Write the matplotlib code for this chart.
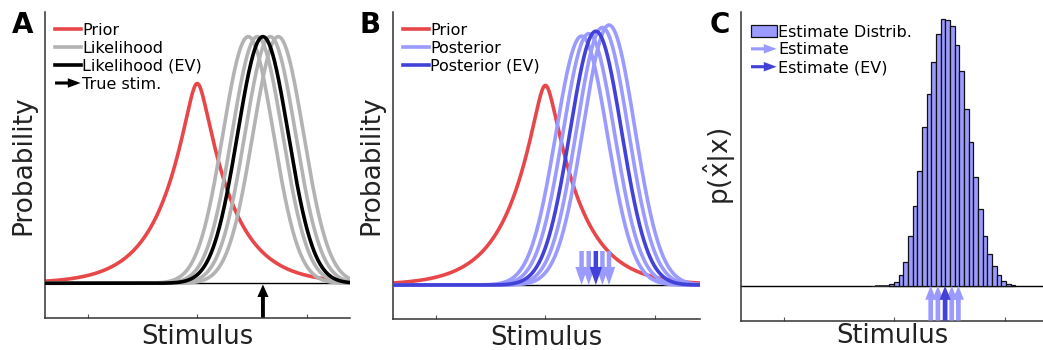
import matplotlib
matplotlib.use('Agg')
import matplotlib.pyplot as plt
import matplotlib.patches as mpatches
from matplotlib.legend_handler import HandlerPatch
import numpy as np

plt.rcParams['mathtext.fontset'] = 'dejavusans'

# --- values (stimulus units, prior centred at 0) ---
prior_center = 0.0
prior_scale = 0.29          # laplace-like width of the prior
prior_peak = 0.81

true_stim = 0.60
likelihood_means = [0.466, 0.548, 0.667, 0.74]
likelihood_ev_mean = 0.60
likelihood_sd = 0.231

estimates = [0.33, 0.395, 0.52, 0.58]          # posterior modes / estimates
estimate_ev = 0.46
posterior_peaks = [1.01, 1.02, 1.045, 1.055]
posterior_ev_peak = 1.03
posterior_sd = 0.235

# histogram of estimates (panel C), bin left edges and bar heights (px above baseline)
hist_start = -0.045
hist_width = 0.0422
hist_heights = [1.7, 4.0, 10.8, 24.0, 50.0, 79.7, 114.5, 159.3, 191.8, 224.0,
                252.0, 266.7, 266.0, 259.5, 241.0, 214.5, 177.0, 144.3, 108.5,
                77.0, 50.0, 31.7, 19.5, 10.8, 4.8, 2.2, 1.0]
hist_tail_left = [0.3, 0.4, 0.5, 0.8]   # tiny bars left of the main block

RED = '#e8474a'
GRAY = '#b3b3b3'
LIGHT = '#9a9aff'
DARK = '#4242d8'


class HandlerArrow(HandlerPatch):
    def create_artists(self, legend, orig_handle, xdescent, ydescent,
                       width, height, fontsize, trans):
        x0, y0 = -xdescent, -ydescent + 0.5 * height
        p = mpatches.FancyArrow(x0, y0, width, 0, width=0.28 * height,
                                head_width=0.85 * height, head_length=0.5 * width,
                                length_includes_head=True,
                                color=orig_handle.get_facecolor(), lw=0)
        p.set_transform(trans)
        return [p]


def prior(x):
    return prior_peak * np.exp(-np.sqrt((x - prior_center) ** 2 + 0.06 ** 2) / prior_scale
                               + 0.06 / prior_scale)


def gauss(x, mu, sd, peak):
    return peak * np.exp(-0.5 * ((x - mu) / sd) ** 2)


def style_axis(ax, xlim, ylim, pad=1):
    ax.set_xlim(*xlim)
    ax.set_ylim(*ylim)
    for s in ['top', 'right']:
        ax.spines[s].set_visible(False)
    for s in ['left', 'bottom']:
        ax.spines[s].set_color('#333333')
        ax.spines[s].set_linewidth(1.1)
    ax.set_xticks([-1, 0, 1])
    ax.set_xticklabels([])
    ax.set_yticks([])
    ax.tick_params(axis='x', direction='in', length=3, width=0.8, color='#555555')
    ax.axhline(0, color='black', lw=1.0, zorder=1)
    ax.set_xlabel('Stimulus', fontsize=18.5, color='#222222', labelpad=pad)


def arrow(ax, x, y_tail, y_tip, color, z=5, hw=8, hl=10, w=3.2):
    ax.annotate('', xy=(x, y_tip), xytext=(x, y_tail),
                arrowprops=dict(width=w, headwidth=hw, headlength=hl, color=color,
                                shrink=0, lw=0),
                zorder=z, annotation_clip=False)


LEG = dict(loc='upper left', bbox_to_anchor=(0.012, 0.985), frameon=False,
           fontsize=11.5, handlelength=1.6, handletextpad=0.1, labelspacing=0.18,
           borderaxespad=0)

W, H = 1043, 350
fig = plt.figure(figsize=(W / 100, H / 100), dpi=100)

def axes_px(x0, x1, y_top, y_bot):
    return fig.add_axes([x0 / W, 1 - y_bot / H, (x1 - x0) / W, (y_bot - y_top) / H])

axA = axes_px(45, 350, 12, 317.5)
axB = axes_px(393, 700, 12, 319)
axC = axes_px(741, 1043, 12, 320.5)

x = np.linspace(-1.5, 1.5, 1200)
lw = 2.6

# ---- panel A ----
style_axis(axA, (-1.39, 1.395), (-0.139, 1.10))
axA.plot(x, prior(x), color=RED, lw=lw, zorder=2, label='Prior')
for i, m in enumerate(likelihood_means):
    axA.plot(x, gauss(x, m, likelihood_sd, 1.0), color=GRAY, lw=lw, zorder=3,
             label='Likelihood' if i == 0 else None)
axA.plot(x, gauss(x, likelihood_ev_mean, likelihood_sd, 1.0), color='black', lw=lw,
         zorder=4, label='Likelihood (EV)')
arrow(axA, true_stim, -0.139, -0.005, 'black', hw=8, hl=9, w=2.8)
hA, lA = axA.get_legend_handles_labels()
hA.append(mpatches.Patch(color='black'))
lA.append('True stim.')
axA.legend(hA, lA, handler_map={mpatches.Patch: HandlerArrow()}, **LEG)
axA.set_ylabel('Probability', fontsize=19, color='#222222', labelpad=6)

# ---- panel B ----
style_axis(axB, (-1.39, 1.41), (-0.138, 1.108))
axB.plot(x, prior(x), color=RED, lw=lw, zorder=2, label='Prior')
for i, (m, pk) in enumerate(zip(estimates, posterior_peaks)):
    axB.plot(x, gauss(x, m, posterior_sd, pk), color=LIGHT, lw=lw, zorder=3,
             label='Posterior' if i == 0 else None)
axB.plot(x, gauss(x, estimate_ev, posterior_sd, posterior_ev_peak), color=DARK, lw=lw,
         zorder=4, label='Posterior (EV)')
for m in estimates:
    arrow(axB, m, 0.138, 0.0, LIGHT, z=5, hw=9, hl=13, w=3.2)
arrow(axB, estimate_ev, 0.138, 0.0, DARK, z=6, hw=9, hl=13, w=3.2)
axB.legend(**LEG)
axB.set_ylabel('Probability', fontsize=19, color='#222222', labelpad=6)

# ---- panel C ----
style_axis(axC, (-1.385, 1.345), (-34.7, 274), pad=-1.5)
n_left = len(hist_tail_left)
edges_left = hist_start - hist_width * np.arange(n_left, 0, -1)
axC.bar(edges_left, hist_tail_left, width=hist_width, align='edge', color=LIGHT,
        edgecolor='#222222', lw=0.6, zorder=2)
edges = hist_start + hist_width * np.arange(len(hist_heights))
axC.bar(edges, hist_heights, width=hist_width, align='edge', color=LIGHT,
        edgecolor='#111111', lw=0.9, zorder=2, label='Estimate Distrib.')
for m in estimates:
    arrow(axC, m, -34.7, 0, LIGHT, z=5, hw=8, hl=10, w=3.4)
arrow(axC, estimate_ev, -34.7, 0, DARK, z=6, hw=8, hl=10, w=3.4)
hC, lC = axC.get_legend_handles_labels()
hC += [mpatches.Patch(color=LIGHT), mpatches.Patch(color=DARK)]
lC += ['Estimate', 'Estimate (EV)']
legC = dict(LEG)
legC['bbox_to_anchor'] = (0.012, 0.98)
axC.legend(hC, lC, handler_map={hC[1]: HandlerArrow(), hC[2]: HandlerArrow()}, **legC)
axC.set_ylabel(r'$\mathrm{p(\hat{x}|x)}$', fontsize=19, color='#222222', labelpad=2)

for lab, px in [('A', 12), ('B', 360), ('C', 710)]:
    fig.text(px / W, 1 - 33 / H, lab, fontsize=20, fontweight='bold', va='baseline')

fig.savefig('out.png', dpi=100)
